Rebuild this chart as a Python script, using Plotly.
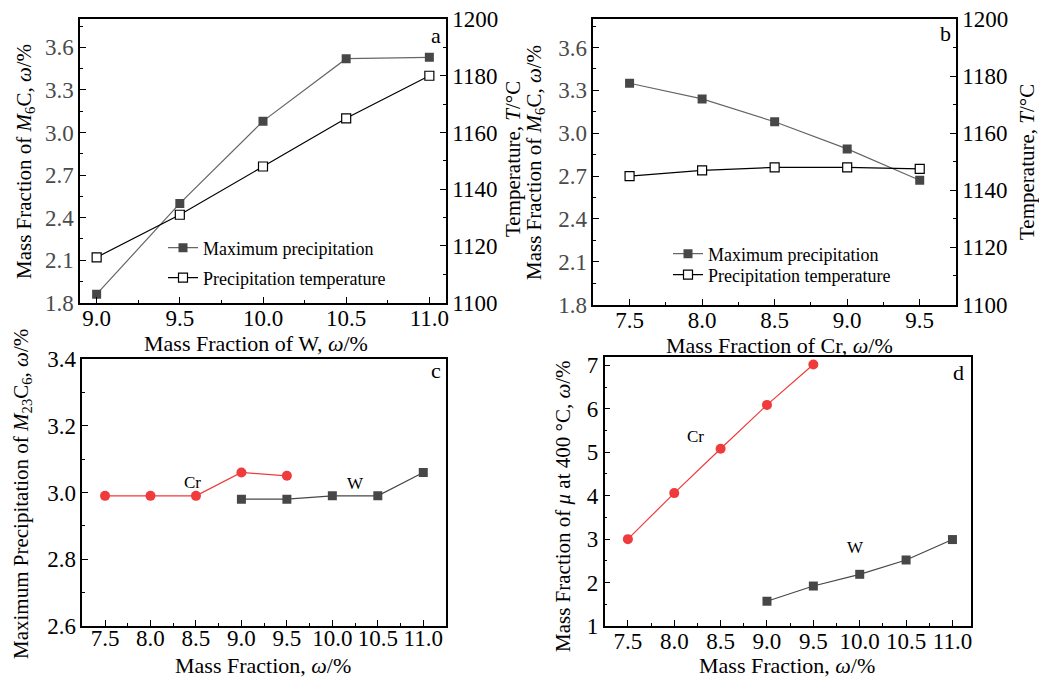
import plotly.graph_objects as go

W, H = 1039, 677

# ---------------- data ----------------
w_x = [9.0, 9.5, 10.0, 10.5, 11.0]
cr_x = [7.5, 8.0, 8.5, 9.0, 9.5]

# panel a (vs W)
a_max = [1.86, 2.50, 3.08, 3.52, 3.53]
a_temp = [1116, 1131, 1148, 1165, 1180]
# panel b (vs Cr)
b_max = [3.35, 3.24, 3.08, 2.89, 2.67]
b_temp = [1145, 1147, 1148, 1148, 1147.5]
# panel c (M23C6 maximum precipitation)
c_cr = [2.99, 2.99, 2.99, 3.06, 3.05]
c_w = [2.98, 2.98, 2.99, 2.99, 3.06]
# panel d (mu phase at 400 C)
d_cr = [3.0, 4.06, 5.08, 6.09, 7.02]
d_w = [1.57, 1.92, 2.19, 2.52, 2.99]

FONT = "Liberation Serif"
TICK = 23
TITLE_H = 22
TITLE_V = 21
LEG = 18

GRAY_M = "#474747"
GRAY_L = "#666666"
RED = "#ef3b3b"


def px(x):
    return x / W


def py(y):
    return 1 - y / H


fig = go.Figure()

# panel a
fig.add_trace(go.Scatter(x=w_x, y=a_max, mode="lines+markers", name="Maximum precipitation",
                         line=dict(color=GRAY_L, width=1.2),
                         marker=dict(symbol="square", size=9, color=GRAY_M, line=dict(width=0)),
                         xaxis="x", yaxis="y", legend="legend"))
fig.add_trace(go.Scatter(x=w_x, y=a_temp, mode="lines+markers", name="Precipitation temperature",
                         line=dict(color="black", width=1.2),
                         marker=dict(symbol="square", size=9, color="white", line=dict(color="black", width=1.2)),
                         xaxis="x", yaxis="y2", legend="legend2"))
# panel b
fig.add_trace(go.Scatter(x=cr_x, y=b_max, mode="lines+markers", name="Maximum precipitation",
                         line=dict(color=GRAY_L, width=1.2),
                         marker=dict(symbol="square", size=9, color=GRAY_M, line=dict(width=0)),
                         xaxis="x2", yaxis="y3", legend="legend3"))
fig.add_trace(go.Scatter(x=cr_x, y=b_temp, mode="lines+markers", name="Precipitation temperature",
                         line=dict(color="black", width=1.2),
                         marker=dict(symbol="square", size=9, color="white", line=dict(color="black", width=1.2)),
                         xaxis="x2", yaxis="y4", legend="legend4"))
# panel c
fig.add_trace(go.Scatter(x=cr_x, y=c_cr, mode="lines+markers", name="Cr", showlegend=False,
                         line=dict(color=RED, width=1.2),
                         marker=dict(symbol="circle", size=10, color=RED),
                         xaxis="x3", yaxis="y5"))
fig.add_trace(go.Scatter(x=w_x, y=c_w, mode="lines+markers", name="W", showlegend=False,
                         line=dict(color=GRAY_M, width=1.2),
                         marker=dict(symbol="square", size=9, color=GRAY_M),
                         xaxis="x3", yaxis="y5"))
# panel d
fig.add_trace(go.Scatter(x=cr_x, y=d_cr, mode="lines+markers", name="Cr", showlegend=False,
                         line=dict(color=RED, width=1.2),
                         marker=dict(symbol="circle", size=10, color=RED),
                         xaxis="x4", yaxis="y6"))
fig.add_trace(go.Scatter(x=w_x, y=d_w, mode="lines+markers", name="W", showlegend=False,
                         line=dict(color=GRAY_M, width=1.2),
                         marker=dict(symbol="square", size=9, color=GRAY_M),
                         xaxis="x4", yaxis="y6"))


def axis(domain, rng, dtick, minor_dtick, fmt, anchor, side=None, overlaying=None,
         tickcolor="black", mirror=True, tick0=None, standoff=0):
    d = dict(domain=domain, range=rng, dtick=dtick, tickformat=fmt, anchor=anchor,
             showgrid=False, zeroline=False, showline=True, linecolor="black", linewidth=1.5,
             mirror=mirror, ticks="inside", ticklen=6, tickwidth=1.2, tickcolor="black",
             tickfont=dict(family=FONT, size=TICK, color=tickcolor),
             minor=dict(dtick=minor_dtick, ticks="inside", ticklen=3, tickwidth=1, tickcolor="black"),
             automargin=False, ticklabelstandoff=standoff)
    if tick0 is not None:
        d["tick0"] = tick0
    if side:
        d["side"] = side
    if overlaying:
        d["overlaying"] = overlaying
    return d


dom_a_x = [px(80), px(446)]
dom_a_y = [py(302.7), py(19)]
dom_b_x = [px(593.3), px(956)]
dom_b_y = [py(304.5), py(19)]
dom_c_x = [px(82.3), px(446)]
dom_c_y = [py(626), py(359)]
dom_d_x = [px(604.7), px(971)]
dom_d_y = [py(626), py(356.7)]


def leg(x, y):
    return dict(x=px(x), y=py(y), xanchor="left", yanchor="middle",
                bgcolor="rgba(0,0,0,0)", font=dict(family=FONT, size=LEG),
                tracegroupgap=0, itemwidth=30)


fig.update_layout(
    width=W, height=H,
    margin=dict(l=0, r=0, t=0, b=0, autoexpand=False),
    paper_bgcolor="white", plot_bgcolor="white",
    font=dict(family=FONT, color="black"),
    xaxis=axis(dom_a_x, [8.9, 11.1], 0.5, 0.25, ".1f", "y", tick0=9.0, standoff=-6),
    yaxis=axis(dom_a_y, [1.8, 3.8], 0.3, 0.15, ".1f", "x", tickcolor="#4a4a4a", mirror=False, tick0=1.8),
    yaxis2=axis(dom_a_y, [1100, 1200], 20, 10, "d", "x", side="right", overlaying="y", mirror=False),
    xaxis2=axis(dom_b_x, [7.25, 9.75], 0.5, 0.25, ".1f", "y3", tick0=7.5, standoff=-6),
    yaxis3=axis(dom_b_y, [1.8, 3.8], 0.3, 0.15, ".1f", "x2", tickcolor="#4a4a4a", mirror=False, tick0=1.8),
    yaxis4=axis(dom_b_y, [1100, 1200], 20, 10, "d", "x2", side="right", overlaying="y3", mirror=False),
    xaxis3=axis(dom_c_x, [7.25, 11.25], 0.5, 0.25, ".1f", "y5", tick0=7.5, standoff=-9),
    yaxis5=axis(dom_c_y, [2.6, 3.4], 0.2, 0.1, ".1f", "x3", tick0=2.6),
    xaxis4=axis(dom_d_x, [7.25, 11.2], 0.5, 0.25, ".1f", "y6", tick0=7.5, standoff=-6),
    yaxis6=axis(dom_d_y, [1, 7.2], 1, 0.5, "d", "x4", tick0=1),
    legend=leg(163, 248),
    legend2=leg(163, 278),
    legend3=leg(668, 254),
    legend4=leg(668, 275),
)

anns = []


def title(text, x, y, angle=0, size=TITLE_H):
    anns.append(dict(text=text, x=px(x), y=py(y), xref="paper", yref="paper",
                     xanchor="center", yanchor="middle", textangle=angle, showarrow=False,
                     font=dict(family=FONT, size=size, color="black")))


# axis titles
title("Mass Fraction of W, <i>ω</i>/%", 256, 343)
title("Mass Fraction of <i>M</i><sub>6</sub>C, <i>ω</i>/%", 25, 162, -90, TITLE_V)
title("Temperature, <i>T</i>/°C", 513, 159, -90, TITLE_V)
title("Mass Fraction of Cr, <i>ω</i>/%", 779, 345)
title("Mass Fraction of <i>M</i><sub>6</sub>C, <i>ω</i>/%", 535, 163, -90, TITLE_V)
title("Temperature, <i>T</i>/°C", 1027, 162, -90, TITLE_V)
title("Mass Fraction, <i>ω</i>/%", 263, 665)
title("Maximum Precipitation of <i>M</i><sub>23</sub>C<sub>6</sub>, <i>ω</i>/%", 22, 494, -90, TITLE_V)
title("Mass Fraction, <i>ω</i>/%", 787, 665)
title("Mass Fraction of <i>μ</i> at 400 °C, <i>ω</i>/%", 563, 506, -90, TITLE_V)

# panel letters
title("a", 436, 36, size=22)
title("b", 945, 34, size=22)
title("c", 436, 370, size=22)
title("d", 958, 372, size=22)

# series labels (data coordinates)
for txt, x, y, xr, yr in [("Cr", 8.46, 3.03, "x3", "y5"), ("W", 10.25, 3.027, "x3", "y5"),
                          ("Cr", 8.23, 5.37, "x4", "y6"), ("W", 9.95, 2.81, "x4", "y6")]:
    anns.append(dict(text=txt, x=x, y=y, xref=xr, yref=yr, showarrow=False,
                     font=dict(family=FONT, size=17, color="black")))

fig.update_layout(annotations=anns)

fig.write_html("out.html", config={"displayModeBar": False},
               post_script="document.body.style.margin='0px';document.body.style.padding='0px';")
